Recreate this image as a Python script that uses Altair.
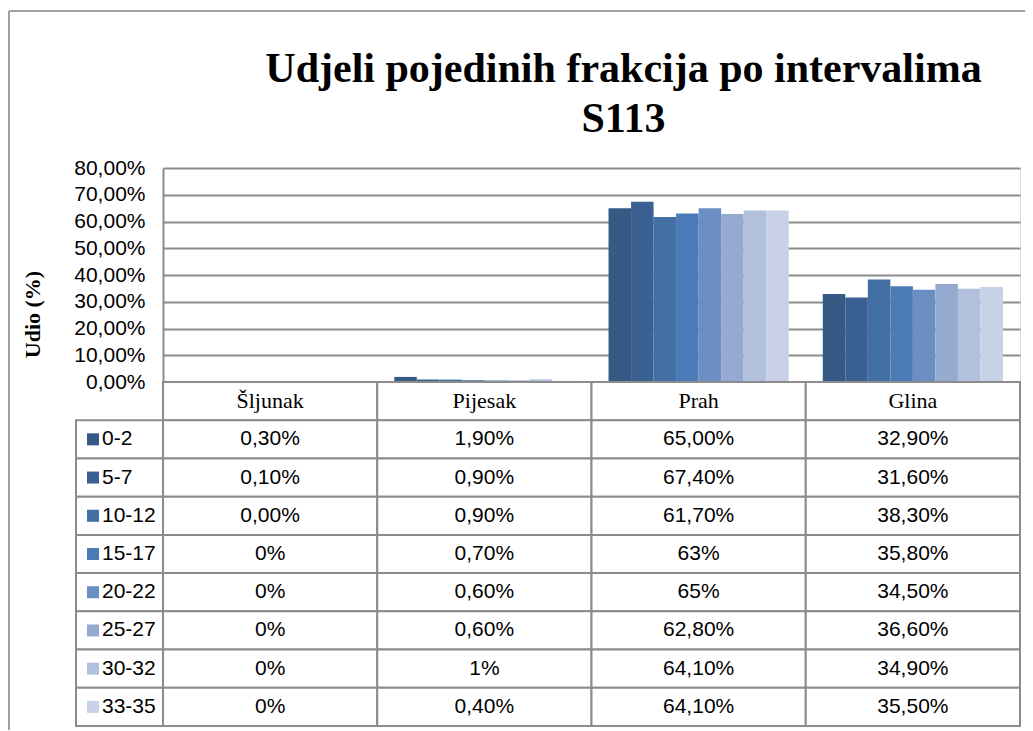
import altair as alt
import pandas as pd

# ---------------- data ----------------
categories = ["Šljunak", "Pijesak", "Prah", "Glina"]
intervals = ["0-2", "5-7", "10-12", "15-17", "20-22", "25-27", "30-32", "33-35"]

sljunak = [0.30, 0.10, 0.00, 0, 0, 0, 0, 0]
pijesak = [1.90, 0.90, 0.90, 0.70, 0.60, 0.60, 1.0, 0.40]
prah = [65.00, 67.40, 61.70, 63, 65, 62.80, 64.10, 64.10]
glina = [32.90, 31.60, 38.30, 35.80, 34.50, 36.60, 34.90, 35.50]

sljunak_lbl = ["0,30%", "0,10%", "0,00%", "0%", "0%", "0%", "0%", "0%"]
pijesak_lbl = ["1,90%", "0,90%", "0,90%", "0,70%", "0,60%", "0,60%", "1%", "0,40%"]
prah_lbl = ["65,00%", "67,40%", "61,70%", "63%", "65%", "62,80%", "64,10%", "64,10%"]
glina_lbl = ["32,90%", "31,60%", "38,30%", "35,80%", "34,50%", "36,60%", "34,90%", "35,50%"]

colors = ["#365a85", "#3b6193", "#4270a4", "#4a7bb7",
          "#6b8fc3", "#95aad1", "#b0c0dd", "#c8d1e5"]

title_lines = ["Udjeli pojedinih frakcija po intervalima", "S113"]
y_title = "Udio (%)"
y_ticks = [0, 10, 20, 30, 40, 50, 60, 70, 80]

# ---------------- layout ----------------
PAD_L, PAD_T, PAD_R, PAD_B = 155, 160, 5, 4
PLOT_W, PLOT_H, TABLE_H = 857, 214, 344
LABEL_W = 87
GRID = "#8c8c8c"
HEADER = " "

series_vals = [sljunak, pijesak, prah, glina]
series_lbls = [sljunak_lbl, pijesak_lbl, prah_lbl, glina_lbl]

rows = []
for c, vals, lbls in zip(categories, series_vals, series_lbls):
    for iv, v, l in zip(intervals, vals, lbls):
        rows.append({"cat": c, "interval": iv, "value": v, "label": l})
df = pd.DataFrame(rows)

row_domain = [HEADER] + intervals
cells = pd.DataFrame([{"cat": c, "row": r} for c in categories for r in row_domain])
headers = pd.DataFrame({"cat": categories, "row": [HEADER] * len(categories)})
legend_df = pd.DataFrame({"row": intervals, "interval": intervals})

x_enc = alt.X("cat:N", sort=categories, axis=None,
              scale=alt.Scale(domain=categories, paddingInner=0, paddingOuter=0))
color_scale = alt.Scale(domain=intervals, range=colors)
row_scale = alt.Scale(domain=row_domain, range=[PLOT_H, PLOT_H + TABLE_H],
                      paddingInner=0, paddingOuter=0)

# ---------------- bars ----------------
bars = alt.Chart(df).mark_bar(minBandSize=1).encode(
    x=x_enc,
    xOffset=alt.XOffset("interval:N", sort=intervals,
                        scale=alt.Scale(domain=intervals, paddingOuter=0.756, paddingInner=0)),
    y=alt.Y("value:Q",
            scale=alt.Scale(domain=[0, 80], range=[PLOT_H, 0], nice=False),
            axis=alt.Axis(values=y_ticks, ticks=False, labelPadding=18,
                          labelFont="Liberation Sans", labelFontSize=21, labelColor="#000000",
                          labelExpr="replace(format(datum.value, '.2f'), '.', ',') + '%'",
                          grid=True, gridColor=GRID, gridWidth=2,
                          domainColor=GRID, domainWidth=2,
                          title=y_title, titleFont="Liberation Serif", titleFontSize=22,
                          titleFontWeight="bold", titleColor="#000000",
                          titleX=32 - 8 - PAD_L, titleY=146, titleAngle=270,
                          titleAlign="center", titleBaseline="middle")),
    color=alt.Color("interval:N", scale=color_scale, legend=None),
)

# ---------------- table ----------------
y_row = alt.Y("row:N", scale=row_scale, axis=None, sort=row_domain)

cell_rects = alt.Chart(cells).mark_rect(color="white", stroke=GRID, strokeWidth=2).encode(
    x=x_enc, y=y_row)

label_rects = alt.Chart(legend_df).mark_rect(color="white", stroke=GRID, strokeWidth=2).encode(
    x=alt.value(-LABEL_W), x2=alt.value(0), y=y_row)

header_text = alt.Chart(headers).mark_text(
    font="Liberation Serif", fontSize=22, color="#000000", baseline="middle").encode(
    x=x_enc, y=y_row, text="cat:N")

value_text = alt.Chart(df.rename(columns={"interval": "row"})).mark_text(
    font="Liberation Sans", fontSize=21, color="#000000", baseline="middle").encode(
    x=x_enc, y=y_row, text="label:N")

row_text = alt.Chart(legend_df).mark_text(
    font="Liberation Sans", fontSize=21, color="#000000", align="left", baseline="middle").encode(
    x=alt.value(-61), y=y_row, text="interval:N")

squares = alt.Chart(legend_df).mark_point(shape="square", filled=True, size=144, opacity=1).encode(
    x=alt.value(-70), y=y_row,
    color=alt.Color("interval:N", scale=color_scale, legend=None))

border_data = alt.Data(values=[{}])
border_top = alt.Chart(border_data).mark_rule(color="#a0a0a0", strokeWidth=2).encode(
    x=alt.value(-PAD_L + 1), x2=alt.value(PLOT_W + PAD_R), y=alt.value(-PAD_T + 3))
border_left = alt.Chart(border_data).mark_rule(color="#a0a0a0", strokeWidth=2).encode(
    x=alt.value(-PAD_L + 1), y=alt.value(-PAD_T + 3), y2=alt.value(PLOT_H + TABLE_H + PAD_B))

table = alt.layer(cell_rects, label_rects, header_text, value_text, row_text, squares,
                  border_top, border_left)

chart = alt.layer(bars, table).resolve_scale(y="independent").properties(
    width=PLOT_W, height=PLOT_H + TABLE_H,
    autosize=alt.AutoSizeParams(type="none"),
    padding={"left": PAD_L, "top": PAD_T, "right": PAD_R, "bottom": PAD_B},
    title=alt.TitleParams(text=title_lines, font="Liberation Serif", fontSize=42,
                          fontWeight="bold", color="#000000", anchor="middle",
                          frame="group", baseline="bottom",
                          dx=32, lineHeight=50, offset=-173),
).configure_view(strokeWidth=0).configure(background="white")

chart.save("out.html", embed_options={"renderer": "svg", "actions": False})
